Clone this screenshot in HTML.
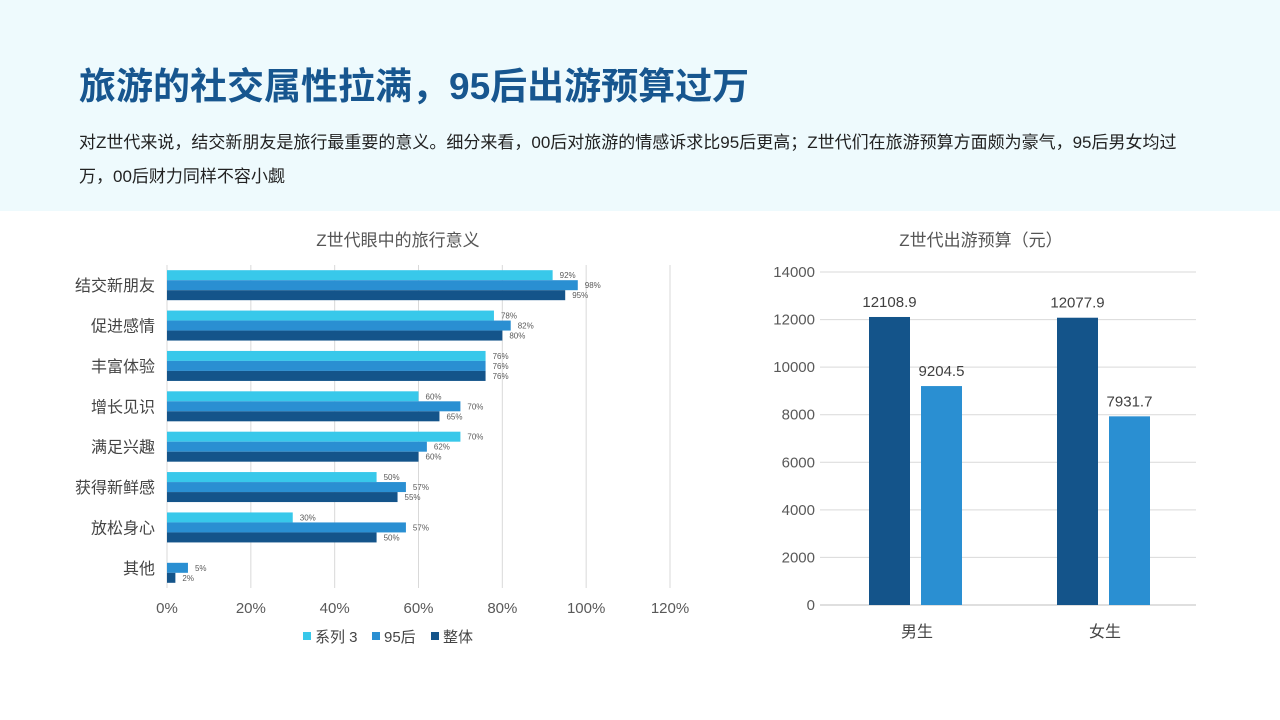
<!DOCTYPE html>
<html><head><meta charset="utf-8"><style>
body{margin:0;width:1280px;height:720px;background:#fff;position:relative;overflow:hidden;font-family:"Liberation Sans","Noto Sans CJK SC",sans-serif}
.hdr{position:absolute;left:0;top:0;width:1280px;height:211px;background:#eefafd}
h1{position:absolute;left:79px;top:56px;margin:0;font-size:37px;font-weight:bold;color:#17568f;letter-spacing:0px;white-space:nowrap}
p{position:absolute;left:79px;top:126px;width:1130px;margin:0;font-size:17px;line-height:34px;color:#222}
svg{position:absolute;left:0;top:0}
</style></head><body>
<div class="hdr"></div>
<h1>旅游的社交属性拉满，95后出游预算过万</h1>
<p>对Z世代来说，结交新朋友是旅行最重要的意义。细分来看，00后对旅游的情感诉求比95后更高；Z世代们在旅游预算方面颇为豪气，95后男女均过万，00后财力同样不容小觑</p>
<svg id="c1" width="1280" height="720"></svg>
<svg id="c2" width="1280" height="720"></svg>
<script>
const cats=["结交新朋友","促进感情","丰富体验","增长见识","满足兴趣","获得新鲜感","放松身心","其他"];
const s3=[92,78,76,60,70,50,30,null];
const s95=[98,82,76,70,62,57,57,5];
const sAll=[95,80,76,65,60,55,50,2];
const xTicks=[0,20,40,60,80,100,120];
const bCats=["男生","女生"];
const bDark=[12108.9,12077.9];
const bLight=[9204.5,7931.7];
const yTicks=[0,2000,4000,6000,8000,10000,12000,14000];
const NS="http://www.w3.org/2000/svg";
function mk(svg,tag,attrs,txt){const e=document.createElementNS(NS,tag);for(const k in attrs)e.setAttribute(k,attrs[k]);if(txt!=null)e.textContent=txt;svg.appendChild(e);return e;}
// chart 1
const c1=document.getElementById('c1');
const x0=167,x1=670,top1=265,bot1=588;
const xs=v=>x0+(v/120)*(x1-x0);
const band=(bot1-top1)/cats.length;
let t=mk(c1,'text',{x:398,y:246,'text-anchor':'middle','font-size':17,fill:'#555'},'Z世代眼中的旅行意义');


xTicks.forEach(v=>{
 const l=mk(c1,'line',{x1:xs(v),x2:xs(v),y1:top1,y2:bot1,stroke:'#d9d9d9','stroke-width':1});
 
 
 const tx=mk(c1,'text',{x:xs(v),y:613,'text-anchor':'middle','font-size':15,fill:'#595959'},v+'%');
 
 
});
const series=[[s3,'#38c8ea'],[s95,'#2a8fd2'],[sAll,'#14548a']];
cats.forEach((c,i)=>{
 const cy=top1+band*(i+0.5);
 const lb=mk(c1,'text',{x:155,y:cy+6,'text-anchor':'end','font-size':16,fill:'#444'},c);
 
 
 series.forEach(([arr,col],k)=>{
  const v=arr[i]; if(v==null)return;
  const y=cy-15+k*10;
  const r=mk(c1,'rect',{x:x0,y:y,width:xs(v)-x0,height:10,fill:col});
  
  
  const vt=mk(c1,'text',{x:xs(v)+7,y:y+8,'font-size':8,fill:'#595959'},v+'%');
  
  
 });
});
const leg=[['系列 3','#38c8ea',303],['95后','#2a8fd2',372],['整体','#14548a',431]];
leg.forEach(([n,c,x])=>{
 const r=mk(c1,'rect',{x:x,y:632,width:8,height:8,fill:c});
 
 
 const tx=mk(c1,'text',{x:x+12,y:642,'font-size':15,fill:'#444'},n);
 
 
});
// chart 2
const c2=document.getElementById('c2');
const px0=820,px1=1196,py0=605,py1=272;
const ys=v=>py0-(v/14000)*(py0-py1);
t=mk(c2,'text',{x:981,y:246,'text-anchor':'middle','font-size':17,fill:'#555'},'Z世代出游预算（元）');


yTicks.forEach(v=>{
 const l=mk(c2,'line',{x1:px0,x2:px1,y1:ys(v),y2:ys(v),stroke:v?'#d9d9d9':'#bfbfbf','stroke-width':1});
 
 
 const tx=mk(c2,'text',{x:815,y:ys(v)+5,'text-anchor':'end','font-size':15,fill:'#595959'},v);
 
 
});
const cw=(px1-px0)/bCats.length;
bCats.forEach((c,i)=>{
 const cx=px0+cw*(i+0.5)+8;
 const lb=mk(c2,'text',{x:cx-5,y:637,'text-anchor':'middle','font-size':16,fill:'#444'},c);
 
 
 [[bDark[i],'#14548a',cx-53],[bLight[i],'#2a8fd2',cx-1]].forEach(([v,col,x])=>{
  const r=mk(c2,'rect',{x:x,y:ys(v),width:41,height:py0-ys(v),fill:col});
  
  
  const vt=mk(c2,'text',{x:x+20.5,y:ys(v)-10,'text-anchor':'middle','font-size':15,fill:'#404040'},v.toFixed(1));
  
  
 });
});
</script>
</body></html>
